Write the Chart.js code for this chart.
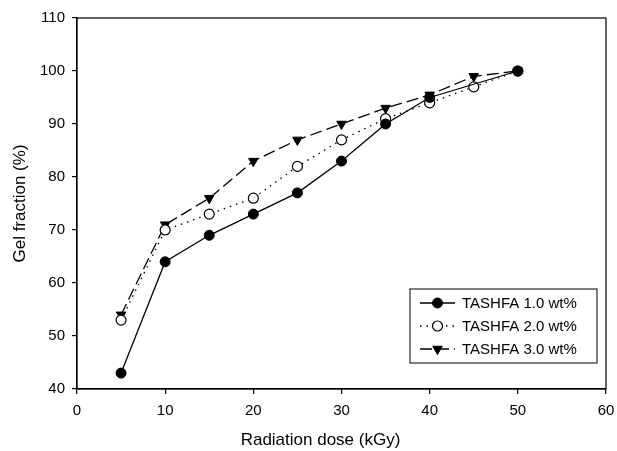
<!DOCTYPE html>
<html>
<head>
<meta charset="utf-8">
<script src="https://cdn.jsdelivr.net/npm/chart.js@4/dist/chart.umd.min.js"></script>
<style>
  html, body { margin: 0; padding: 0; background: #fff; }
  #wrap { width: 617px; height: 451px; }
</style>
</head>
<body>
<div id="wrap"><canvas id="gel-chart" width="617" height="451"></canvas></div>
<script>
/* ===== Gel fraction vs radiation dose ===== */

const doseTicks = [0, 10, 20, 30, 40, 50, 60];
const gelTicks  = [40, 50, 60, 70, 80, 90, 100, 110];

// dose (kGy) for each series
const dose1 = [5, 10, 15, 20, 25, 30, 35, 40, 50];
const dose2 = [5, 10, 15, 20, 25, 30, 35, 40, 45, 50];
const dose3 = [5, 10, 15, 20, 25, 30, 35, 40, 45, 50];

// gel fraction (%)
const gel1 = [43, 64, 69, 73, 77, 83, 90, 95, 100];
const gel2 = [53, 70, 73, 76, 82, 87, 91, 94, 97, 100];
const gel3 = [54, 71, 76, 83, 87, 90, 93, 95.5, 99, 100];

const labels = ['TASHFA 1.0 wt%', 'TASHFA 2.0 wt%', 'TASHFA 3.0 wt%'];
const xTitle = 'Radiation dose (kGy)';
const yTitle = 'Gel fraction (%)';

const FONT = '"Liberation Sans", Arial, sans-serif';

function toPoints(xs, ys) {
  return xs.map((x, i) => ({ x: x, y: ys[i] }));
}

/** Box round the plot, the x title and the boxed legend (line sample + marker + text) */
const framePlugin = {
  id: 'frame',
  afterDatasetsDraw(chart) {
    const { ctx, chartArea: a } = chart;
    ctx.save();
    ctx.strokeStyle = '#000';
    ctx.lineWidth = 1.2;
    ctx.strokeRect(a.left, a.top, a.right - a.left, a.bottom - a.top);

    // x axis title, sits a bit left of the plot centre
    ctx.fillStyle = '#000';
    ctx.font = '17px ' + FONT;
    ctx.textAlign = 'center';
    ctx.textBaseline = 'middle';
    ctx.fillText(xTitle, (a.left + a.right) / 2 - 21, a.bottom + 51);

    // legend box
    const bx = a.right - 196, by = a.bottom - 100, bw = 187, bh = 74;
    ctx.lineWidth = 1;
    ctx.strokeRect(bx, by, bw, bh);

    ctx.font = '15px ' + FONT;
    ctx.textAlign = 'left';
    chart.data.datasets.forEach((ds, i) => {
      const y = by + 14 + i * 23;
      const x0 = bx + 10, x1 = bx + 45, xm = (x0 + x1) / 2;
      ctx.strokeStyle = '#000';
      ctx.lineWidth = ds.borderWidth;
      ctx.setLineDash(ds.borderDash || []);
      ctx.beginPath();
      ctx.moveTo(x0, y);
      ctx.lineTo(x1, y);
      ctx.stroke();
      ctx.setLineDash([]);
      ctx.fillStyle = ds.pointBackgroundColor;
      ctx.strokeStyle = ds.pointBorderColor;
      ctx.lineWidth = ds.pointBorderWidth;
      Chart.helpers.drawPoint(ctx, {
        pointStyle: ds.pointStyle,
        rotation: ds.pointRotation || 0,
        radius: ds.pointRadius,
        borderWidth: ds.pointBorderWidth
      }, xm, y);
      ctx.fillStyle = '#000';
      ctx.fillText(ds.label, bx + 52, y + 1);
    });
    ctx.restore();
  }
};

const datasets = [
  {
    label: labels[0],
    data: toPoints(dose1, gel1),
    borderColor: '#000',
    borderWidth: 1.3,
    pointStyle: 'circle',
    pointRadius: 5,
    pointBackgroundColor: '#000',
    pointBorderColor: '#000',
    pointBorderWidth: 1
  },
  {
    label: labels[1],
    data: toPoints(dose2, gel2),
    borderColor: '#000',
    borderWidth: 1.3,
    borderDash: [1.5, 5],
    pointStyle: 'circle',
    pointRadius: 5,
    pointBackgroundColor: '#fff',
    pointBorderColor: '#000',
    pointBorderWidth: 1.2
  },
  {
    label: labels[2],
    data: toPoints(dose3, gel3),
    borderColor: '#000',
    borderWidth: 1.3,
    borderDash: [12, 5],
    pointStyle: 'triangle',
    pointRotation: 180,
    pointRadius: 5.5,
    pointBackgroundColor: '#000',
    pointBorderColor: '#000',
    pointBorderWidth: 1
  }
];

const axisGrid = {
  drawOnChartArea: false,
  drawTicks: true,
  tickLength: 5,
  color: '#000',
  lineWidth: 1.2
};

new Chart(document.getElementById('gel-chart').getContext('2d'), {
  type: 'line',
  data: { datasets },
  options: {
    responsive: false,
    animation: false,
    layout: { padding: { top: 18, right: 11, left: 0, bottom: 0 } },
    plugins: {
      legend: { display: false },
      tooltip: { enabled: false }
    },
    scales: {
      x: {
        type: 'linear',
        min: 0,
        max: 60,
        afterBuildTicks: s => { s.ticks = doseTicks.map(v => ({ value: v })); },
        afterFit: s => { s.height = 62; s.paddingLeft = 0; s.paddingRight = 0; },
        grid: axisGrid,
        border: { color: '#000', width: 1.2 },
        ticks: { color: '#000', font: { family: FONT, size: 15 }, padding: 8, maxRotation: 0 }
      },
      y: {
        type: 'linear',
        min: 40,
        max: 110,
        afterBuildTicks: s => { s.ticks = gelTicks.map(v => ({ value: v })); },
        afterFit: s => { s.width = 77; s.paddingTop = 0; s.paddingBottom = 0; },
        grid: axisGrid,
        border: { color: '#000', width: 1.2 },
        ticks: { color: '#000', font: { family: FONT, size: 15 }, padding: 7 },
        title: {
          display: true,
          text: yTitle,
          color: '#000',
          font: { family: FONT, size: 17 },
          padding: { top: 10, bottom: 0 }
        }
      }
    }
  },
  plugins: [framePlugin]
});
</script>
</body>
</html>
